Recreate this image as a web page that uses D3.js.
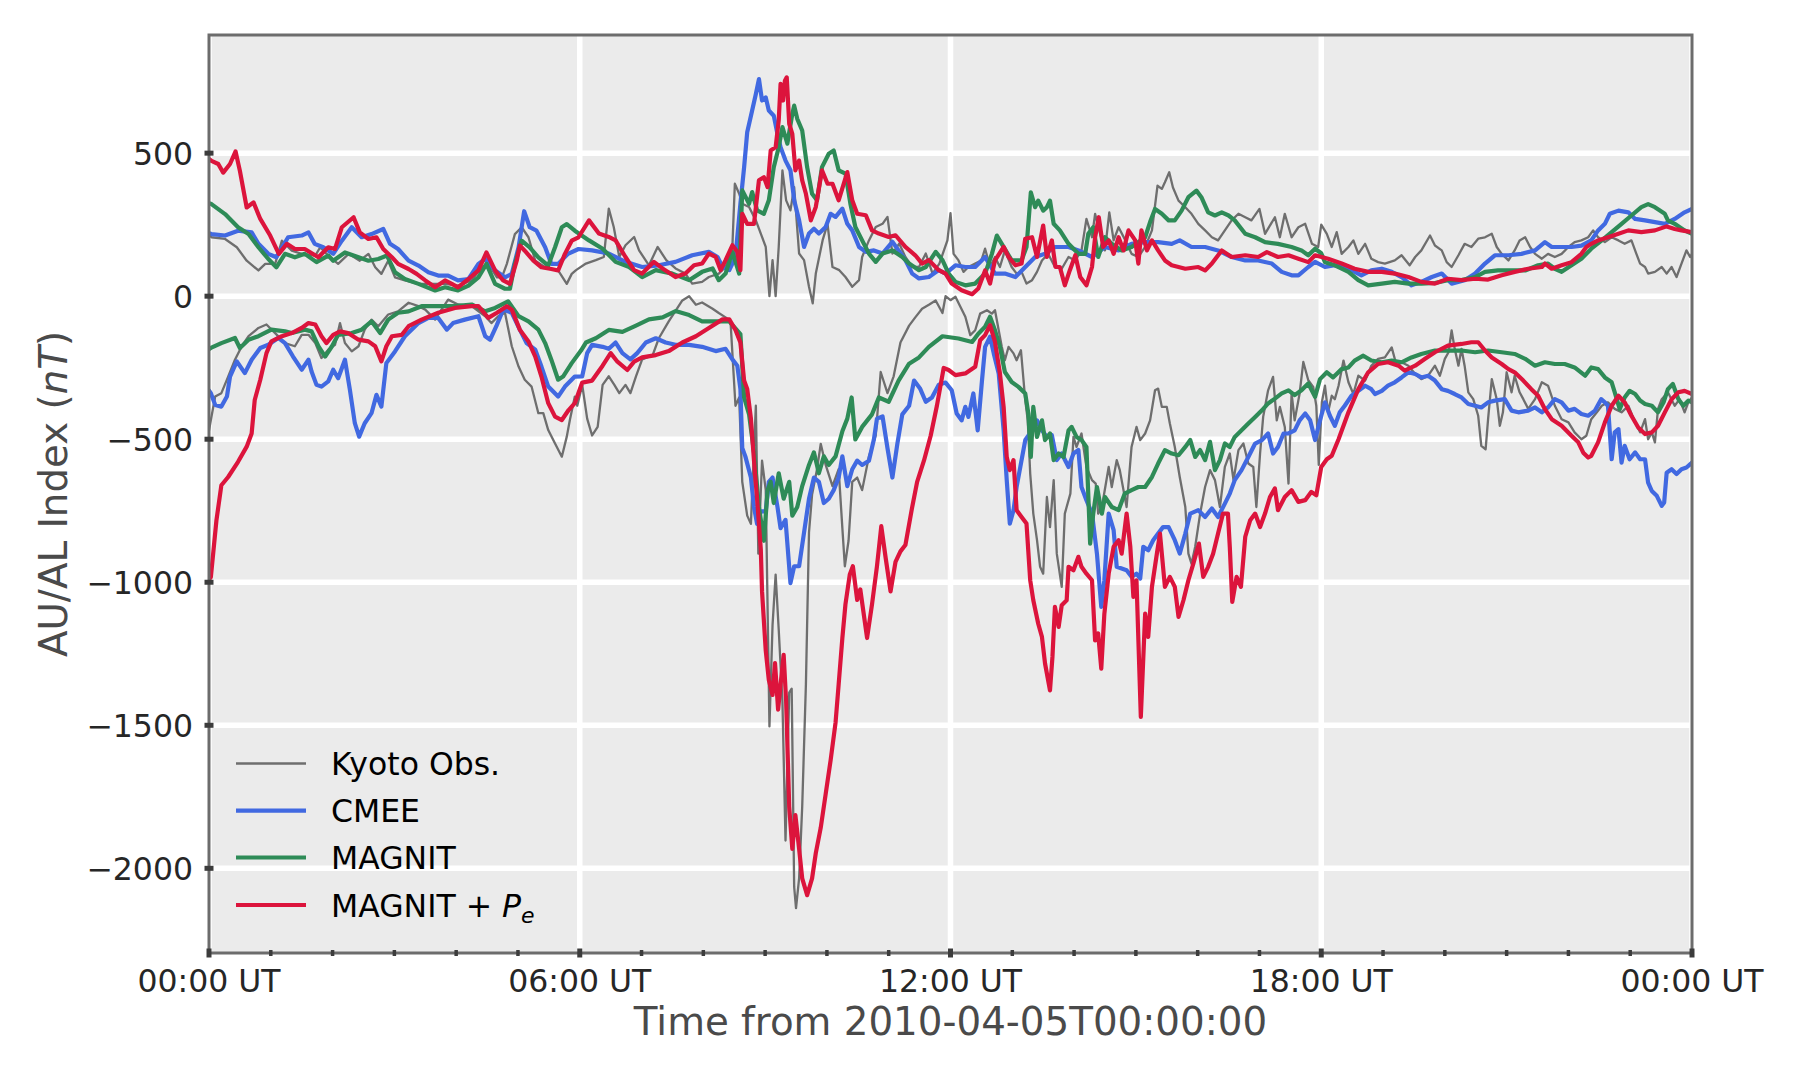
<!DOCTYPE html>
<html><head><meta charset="utf-8">
<script src="https://cdn.jsdelivr.net/npm/d3@7"></script>
<style>body{margin:0;background:#fff}svg{display:block}</style>
</head><body>
<svg id="chart" width="1800" height="1080"></svg>
<script>
// ---------- tick data ----------
const hourTicks = [0, 6, 12, 18, 24];
const hourTickLabels = ["00:00 UT", "06:00 UT", "12:00 UT", "18:00 UT", "00:00 UT"];
const minorHours = d3.range(0, 25, 1);
const valueTicks = [500, 0, -500, -1000, -1500, -2000];
const xTitle = "Time from 2010-04-05T00:00:00";

// ---------- series data: [hour, nT] ----------
const kyotoAU = [[0,215],[0.04,206],[0.26,200],[0.45,171],[0.61,124],[0.8,90],[0.91,113],[1.07,113],[1.18,194],[1.34,159],[1.5,148],[1.72,142],[1.8,171],[1.93,142],[2.09,113],[2.26,148],[2.44,124],[2.58,148],[2.69,101],[2.79,78],[2.9,124],[3.01,66],[3.17,55],[3.39,43],[3.6,43],[3.82,43],[4.03,37],[4.25,55],[4.41,101],[4.52,113],[4.66,66],[4.74,66],[4.82,113],[4.95,217],[5.06,241],[5.17,206],[5.28,124],[5.44,101],[5.65,90],[5.79,43],[5.87,78],[5.94,91],[6.1,114],[6.26,126],[6.39,137],[6.47,306],[6.55,242],[6.64,137],[6.74,178],[6.88,207],[6.96,160],[7.12,108],[7.26,172],[7.4,126],[7.55,97],[7.71,79],[7.82,44],[7.98,50],[8.09,67],[8.25,79],[8.36,102],[8.47,172],[8.51,393],[8.58,358],[8.63,323],[8.74,312],[8.85,265],[8.93,219],[9.01,172],[9.07,0],[9.12,126],[9.17,0],[9.22,172],[9.28,440],[9.34,335],[9.41,300],[9.47,381],[9.55,149],[9.63,126],[9.71,33],[9.77,-25],[9.82,79],[9.93,195],[10.01,253],[10.09,102],[10.2,91],[10.3,67],[10.41,33],[10.52,56],[10.57,137],[10.68,195],[10.79,242],[10.9,253],[10.98,277],[11.06,149],[11.17,184],[11.27,137],[11.38,102],[11.49,102],[11.6,149],[11.71,79],[11.82,114],[11.95,195],[12.0,290],[12.05,148],[12.13,125],[12.21,85],[12.29,102],[12.4,114],[12.5,125],[12.56,166],[12.64,102],[12.72,137],[12.8,102],[12.88,160],[12.99,102],[13.07,79],[13.15,85],[13.23,44],[13.32,56],[13.4,85],[13.48,125],[13.58,148],[13.69,102],[13.8,96],[13.91,137],[14.02,125],[14.12,160],[14.2,270],[14.29,206],[14.34,288],[14.42,218],[14.5,160],[14.57,293],[14.64,195],[14.72,241],[14.83,195],[14.93,148],[15.04,137],[15.15,172],[15.26,230],[15.35,386],[15.42,375],[15.47,398],[15.54,433],[15.6,380],[15.69,334],[15.8,311],[15.9,288],[16.01,253],[16.12,230],[16.23,206],[16.33,195],[16.44,230],[16.55,265],[16.66,288],[16.77,276],[16.87,265],[17.0,305],[17.09,218],[17.25,276],[17.33,206],[17.41,288],[17.52,206],[17.63,241],[17.74,253],[17.85,183],[17.95,172],[18.0,250],[18.09,218],[18.17,172],[18.25,224],[18.33,148],[18.44,172],[18.52,195],[18.6,148],[18.71,183],[18.81,131],[18.92,119],[19.03,114],[19.19,125],[19.3,143],[19.43,108],[19.52,137],[19.62,160],[19.76,212],[19.84,177],[19.95,160],[20.03,119],[20.11,102],[20.22,143],[20.32,183],[20.43,172],[20.54,201],[20.65,206],[20.76,218],[20.84,172],[20.92,148],[21.03,125],[21.13,160],[21.21,195],[21.3,206],[21.38,172],[21.46,148],[21.57,131],[21.67,148],[21.78,137],[21.89,148],[22.0,172],[22.1,189],[22.21,195],[22.32,206],[22.4,230],[22.48,206],[22.59,189],[22.7,206],[22.81,195],[22.91,183],[23.02,195],[23.1,148],[23.16,114],[23.24,102],[23.29,79],[23.4,85],[23.51,102],[23.59,79],[23.67,102],[23.75,67],[23.83,114],[23.91,160],[23.97,137],[24.0,148]];

const kyotoAL = [[0,-470],[0.03,-433],[0.1,-351],[0.2,-339],[0.31,-281],[0.42,-222],[0.53,-175],[0.64,-140],[0.8,-111],[0.93,-99],[1.07,-129],[1.23,-164],[1.39,-175],[1.5,-135],[1.61,-135],[1.72,-164],[1.82,-216],[1.93,-187],[2.04,-170],[2.12,-94],[2.2,-164],[2.31,-193],[2.42,-175],[2.52,-117],[2.63,-82],[2.74,-105],[2.9,-64],[3.06,-53],[3.23,-23],[3.39,-35],[3.5,-47],[3.66,-82],[3.71,-64],[3.87,-12],[4.03,-29],[4.25,-35],[4.47,-70],[4.57,-94],[4.68,-70],[4.79,-58],[4.9,-175],[5.01,-246],[5.11,-292],[5.22,-316],[5.33,-409],[5.41,-409],[5.49,-468],[5.6,-515],[5.71,-561],[5.79,-491],[5.84,-433],[5.92,-351],[5.96,-383],[6.04,-310],[6.12,-428],[6.2,-487],[6.29,-457],[6.37,-310],[6.47,-280],[6.56,-310],[6.64,-339],[6.74,-310],[6.82,-339],[6.91,-280],[7.01,-221],[7.18,-206],[7.28,-147],[7.44,-88],[7.66,-15],[7.77,0],[7.88,-30],[7.98,-22],[8.15,-44],[8.25,-59],[8.36,-74],[8.44,-88],[8.52,-383],[8.58,-354],[8.63,-649],[8.71,-767],[8.77,-796],[8.85,-383],[8.89,-900],[8.95,-575],[9.01,-678],[9.07,-1504],[9.12,-1150],[9.17,-973],[9.22,-1165],[9.28,-1416],[9.33,-1903],[9.39,-1386],[9.43,-1372],[9.47,-2065],[9.5,-2139],[9.55,-2035],[9.6,-1785],[9.66,-1357],[9.71,-826],[9.76,-693],[9.84,-605],[9.9,-516],[9.98,-590],[10.09,-664],[10.19,-605],[10.25,-811],[10.29,-944],[10.35,-855],[10.41,-649],[10.49,-634],[10.57,-678],[10.68,-560],[10.79,-487],[10.87,-265],[10.98,-339],[11.08,-280],[11.19,-162],[11.33,-103],[11.43,-74],[11.54,-44],[11.65,-30],[11.76,-15],[11.87,-59],[11.92,0],[12.0,-14],[12.08,-2],[12.16,-37],[12.24,-72],[12.32,-136],[12.4,-119],[12.48,-61],[12.59,-49],[12.67,-61],[12.72,-49],[12.78,-119],[12.83,-177],[12.88,-224],[12.94,-177],[13.02,-200],[13.07,-224],[13.14,-189],[13.21,-364],[13.25,-434],[13.29,-620],[13.34,-760],[13.4,-853],[13.45,-946],[13.5,-970],[13.56,-702],[13.61,-807],[13.67,-643],[13.72,-900],[13.8,-1016],[13.85,-760],[13.94,-690],[13.99,-492],[14.04,-527],[14.12,-480],[14.2,-597],[14.29,-643],[14.35,-655],[14.39,-760],[14.45,-737],[14.56,-597],[14.61,-667],[14.69,-573],[14.74,-608],[14.85,-737],[14.93,-527],[15.01,-457],[15.07,-503],[15.15,-480],[15.23,-434],[15.31,-329],[15.36,-323],[15.42,-387],[15.5,-387],[15.55,-445],[15.63,-527],[15.71,-632],[15.8,-737],[15.85,-900],[15.9,-935],[15.96,-876],[16.04,-760],[16.12,-667],[16.2,-608],[16.28,-643],[16.36,-737],[16.44,-597],[16.52,-550],[16.58,-643],[16.66,-538],[16.74,-515],[16.82,-585],[16.9,-597],[16.95,-737],[17.01,-550],[17.06,-422],[17.14,-329],[17.22,-282],[17.28,-434],[17.33,-387],[17.41,-457],[17.47,-655],[17.52,-340],[17.57,-434],[17.65,-340],[17.71,-230],[17.79,-294],[17.87,-317],[17.92,-383],[17.96,-590],[18.01,-371],[18.06,-313],[18.11,-406],[18.17,-348],[18.22,-360],[18.28,-313],[18.36,-225],[18.44,-301],[18.52,-342],[18.6,-278],[18.71,-295],[18.81,-243],[18.92,-219],[19.03,-214],[19.14,-179],[19.22,-243],[19.3,-231],[19.41,-243],[19.52,-272],[19.62,-290],[19.73,-278],[19.84,-243],[19.92,-278],[20.0,-219],[20.06,-196],[20.11,-120],[20.16,-184],[20.22,-243],[20.27,-184],[20.32,-243],[20.38,-336],[20.46,-360],[20.54,-418],[20.59,-523],[20.66,-535],[20.7,-430],[20.76,-290],[20.84,-360],[20.89,-453],[20.94,-406],[21.0,-266],[21.08,-336],[21.13,-278],[21.21,-336],[21.27,-360],[21.35,-394],[21.46,-360],[21.57,-301],[21.67,-313],[21.78,-383],[21.89,-430],[22.0,-441],[22.1,-476],[22.21,-500],[22.29,-488],[22.37,-430],[22.46,-406],[22.54,-383],[22.64,-371],[22.75,-394],[22.86,-406],[22.97,-383],[23.08,-441],[23.16,-476],[23.24,-430],[23.29,-500],[23.35,-476],[23.4,-511],[23.45,-394],[23.51,-360],[23.61,-336],[23.72,-383],[23.8,-360],[23.88,-406],[23.94,-371],[24.0,-354]];

const cmeeAU = [[0,220],[0.04,217],[0.26,212],[0.47,229],[0.69,223],[0.8,183],[0.96,148],[1.09,136],[1.28,206],[1.5,212],[1.61,223],[1.71,183],[1.85,171],[2.01,148],[2.15,194],[2.31,241],[2.47,206],[2.63,217],[2.82,235],[2.93,183],[3.06,165],[3.23,124],[3.39,107],[3.55,84],[3.71,72],[3.87,72],[4.03,55],[4.2,60],[4.36,113],[4.47,130],[4.63,90],[4.79,66],[4.9,78],[5.01,171],[5.1,297],[5.19,241],[5.3,229],[5.44,171],[5.54,113],[5.65,113],[5.81,148],[5.98,165],[6.2,160],[6.47,149],[6.74,120],[7.01,102],[7.28,108],[7.55,120],[7.82,143],[8.09,155],[8.23,137],[8.31,102],[8.42,91],[8.52,137],[8.6,323],[8.66,451],[8.71,573],[8.79,649],[8.85,707],[8.9,759],[8.95,684],[9.01,695],[9.06,649],[9.14,631],[9.2,567],[9.25,521],[9.33,474],[9.41,440],[9.47,335],[9.55,265],[9.63,172],[9.71,219],[9.79,236],[9.87,219],[9.98,242],[10.06,288],[10.14,277],[10.25,306],[10.33,253],[10.41,230],[10.52,172],[10.63,155],[10.76,160],[10.9,149],[11.06,190],[11.16,160],[11.27,126],[11.38,79],[11.49,62],[11.65,67],[11.81,91],[11.92,79],[12.08,108],[12.24,102],[12.4,102],[12.56,137],[12.72,79],[12.88,79],[13.05,67],[13.21,102],[13.37,137],[13.53,148],[13.69,172],[13.91,172],[14.07,160],[14.29,137],[14.5,172],[14.72,160],[14.93,183],[15.15,189],[15.36,189],[15.58,183],[15.71,195],[15.9,172],[16.12,172],[16.33,160],[16.55,137],[16.77,125],[16.98,125],[17.2,114],[17.36,85],[17.52,73],[17.63,73],[17.79,102],[17.9,120],[18.06,102],[18.22,108],[18.44,96],[18.65,73],[18.81,90],[18.98,96],[19.14,85],[19.3,67],[19.46,38],[19.62,50],[19.79,67],[19.95,79],[20.11,44],[20.32,56],[20.49,79],[20.65,114],[20.81,143],[21.03,143],[21.24,148],[21.46,160],[21.62,189],[21.73,172],[21.89,172],[22.05,172],[22.21,177],[22.37,195],[22.48,230],[22.59,253],[22.67,288],[22.81,299],[22.97,293],[23.08,270],[23.24,265],[23.4,259],[23.56,253],[23.72,270],[23.88,293],[24.0,305]];

const cmeeAL = [[0,-330],[0.03,-339],[0.1,-380],[0.2,-386],[0.29,-351],[0.34,-281],[0.45,-228],[0.58,-269],[0.69,-222],[0.83,-181],[0.96,-170],[1.12,-146],[1.23,-164],[1.36,-211],[1.5,-257],[1.61,-222],[1.66,-263],[1.74,-310],[1.82,-316],[1.93,-298],[2.01,-257],[2.09,-287],[2.2,-222],[2.28,-327],[2.36,-444],[2.43,-491],[2.52,-444],[2.63,-409],[2.71,-345],[2.79,-386],[2.87,-234],[3.01,-193],[3.17,-140],[3.39,-94],[3.55,-76],[3.71,-76],[3.85,-117],[3.95,-94],[4.14,-82],[4.36,-70],[4.47,-140],[4.55,-152],[4.65,-105],[4.76,-47],[4.9,-58],[5.03,-117],[5.14,-164],[5.28,-187],[5.38,-246],[5.49,-316],[5.65,-351],[5.76,-316],[5.92,-281],[6.04,-280],[6.12,-199],[6.2,-170],[6.37,-177],[6.47,-184],[6.58,-162],[6.69,-199],[6.82,-221],[6.93,-199],[7.07,-162],[7.23,-147],[7.39,-162],[7.55,-170],[7.77,-170],[7.98,-177],[8.2,-192],[8.36,-184],[8.47,-221],[8.55,-243],[8.6,-324],[8.63,-531],[8.68,-560],[8.77,-634],[8.82,-737],[8.87,-796],[8.93,-752],[9.01,-752],[9.06,-649],[9.12,-634],[9.2,-737],[9.25,-811],[9.33,-782],[9.41,-1003],[9.47,-944],[9.55,-944],[9.63,-826],[9.71,-708],[9.79,-634],[9.87,-649],[9.95,-723],[10.03,-708],[10.11,-678],[10.19,-634],[10.25,-560],[10.33,-664],[10.41,-605],[10.49,-575],[10.57,-590],[10.68,-575],[10.76,-501],[10.81,-428],[10.9,-420],[10.98,-531],[11.06,-634],[11.14,-516],[11.22,-413],[11.33,-383],[11.41,-295],[11.51,-324],[11.6,-369],[11.7,-354],[11.81,-310],[11.92,-302],[12.02,-329],[12.1,-410],[12.18,-434],[12.24,-387],[12.29,-422],[12.37,-340],[12.44,-469],[12.51,-294],[12.56,-177],[12.64,-142],[12.7,-200],[12.78,-270],[12.86,-469],[12.91,-643],[12.96,-795],[13.02,-748],[13.07,-667],[13.13,-597],[13.21,-503],[13.32,-469],[13.4,-434],[13.48,-469],[13.56,-492],[13.64,-486],[13.72,-573],[13.8,-550],[13.91,-597],[13.99,-550],[14.07,-538],[14.12,-667],[14.2,-713],[14.29,-760],[14.37,-900],[14.44,-1086],[14.49,-993],[14.56,-760],[14.64,-818],[14.69,-946],[14.77,-952],[14.85,-958],[14.93,-981],[15.01,-970],[15.07,-987],[15.12,-876],[15.2,-888],[15.28,-853],[15.36,-830],[15.44,-807],[15.53,-807],[15.63,-853],[15.71,-900],[15.8,-830],[15.88,-760],[16.01,-748],[16.12,-772],[16.23,-742],[16.33,-772],[16.44,-725],[16.52,-690],[16.6,-643],[16.71,-608],[16.82,-562],[16.93,-515],[17.04,-503],[17.14,-480],[17.22,-550],[17.3,-527],[17.39,-480],[17.47,-480],[17.57,-469],[17.65,-434],[17.74,-410],[17.82,-434],[17.9,-503],[17.98,-434],[18.06,-371],[18.14,-418],[18.22,-453],[18.3,-406],[18.38,-383],[18.49,-348],[18.6,-331],[18.71,-313],[18.81,-325],[18.87,-342],[18.98,-331],[19.08,-313],[19.19,-301],[19.3,-284],[19.41,-266],[19.52,-272],[19.62,-284],[19.73,-278],[19.84,-295],[19.95,-325],[20.05,-331],[20.16,-342],[20.27,-354],[20.38,-377],[20.49,-383],[20.59,-389],[20.7,-371],[20.81,-365],[20.97,-360],[21.08,-400],[21.19,-406],[21.35,-400],[21.46,-389],[21.57,-406],[21.67,-389],[21.78,-360],[21.89,-371],[22.0,-400],[22.1,-394],[22.21,-412],[22.32,-418],[22.43,-400],[22.53,-360],[22.59,-371],[22.64,-383],[22.7,-570],[22.75,-476],[22.81,-465],[22.86,-582],[22.91,-523],[22.99,-570],[23.08,-546],[23.16,-570],[23.24,-570],[23.29,-652],[23.35,-681],[23.43,-698],[23.51,-733],[23.55,-721],[23.59,-617],[23.67,-605],[23.75,-622],[23.83,-605],[23.91,-599],[24.0,-582]];

const magnitAU = [[0,325],[0.04,322],[0.26,287],[0.47,241],[0.64,217],[0.8,171],[0.96,130],[1.09,101],[1.23,148],[1.39,136],[1.55,148],[1.74,119],[1.93,142],[2.01,124],[2.2,153],[2.42,136],[2.58,124],[2.74,130],[2.88,142],[3.01,84],[3.17,60],[3.39,43],[3.66,20],[3.82,31],[4.03,20],[4.2,37],[4.36,66],[4.49,113],[4.63,43],[4.79,26],[4.87,26],[4.95,113],[5.06,194],[5.19,171],[5.33,136],[5.49,107],[5.6,171],[5.71,241],[5.79,252],[5.92,229],[6.15,195],[6.37,166],[6.58,120],[6.8,102],[7.01,67],[7.23,91],[7.5,79],[7.77,56],[7.98,85],[8.15,97],[8.25,56],[8.36,79],[8.47,155],[8.58,79],[8.63,370],[8.74,323],[8.79,364],[8.87,300],[8.98,288],[9.06,335],[9.14,451],[9.22,521],[9.28,591],[9.36,533],[9.44,637],[9.47,666],[9.52,620],[9.6,579],[9.68,451],[9.76,358],[9.84,335],[9.92,451],[10.03,498],[10.11,509],[10.19,440],[10.3,428],[10.38,323],[10.46,242],[10.57,195],[10.68,149],[10.79,120],[10.9,149],[11.06,160],[11.22,137],[11.33,114],[11.49,91],[11.6,102],[11.76,155],[11.87,126],[11.97,79],[12.08,50],[12.24,38],[12.4,44],[12.56,79],[12.67,148],[12.75,212],[12.83,183],[12.99,125],[13.15,125],[13.23,172],[13.3,363],[13.37,311],[13.42,334],[13.5,299],[13.56,311],[13.61,334],[13.67,253],[13.77,230],[13.91,183],[14.07,148],[14.18,148],[14.23,218],[14.31,241],[14.39,137],[14.5,206],[14.61,183],[14.77,160],[14.93,172],[15.15,206],[15.23,259],[15.31,305],[15.42,288],[15.53,265],[15.63,265],[15.74,299],[15.85,346],[15.98,369],[16.06,346],[16.17,293],[16.28,282],[16.39,293],[16.5,282],[16.6,265],[16.77,218],[16.93,206],[17.09,189],[17.3,183],[17.52,172],[17.68,160],[17.79,143],[17.9,166],[18.0,150],[18.06,119],[18.22,108],[18.44,85],[18.6,56],[18.76,38],[18.98,44],[19.19,50],[19.41,44],[19.62,44],[19.84,46],[20.05,56],[20.27,56],[20.49,67],[20.65,85],[20.86,90],[21.08,90],[21.3,90],[21.51,108],[21.67,114],[21.78,96],[21.89,85],[22.05,108],[22.21,131],[22.37,166],[22.54,195],[22.7,224],[22.86,253],[23.02,282],[23.18,311],[23.29,322],[23.4,311],[23.56,288],[23.61,265],[23.72,253],[23.88,230],[24.0,218]];

const magnitAL = [[0,-185],[0.03,-181],[0.2,-164],[0.42,-146],[0.5,-181],[0.64,-152],[0.8,-140],[1.01,-117],[1.23,-123],[1.34,-129],[1.55,-117],[1.66,-123],[1.77,-175],[1.88,-211],[1.99,-175],[2.09,-135],[2.31,-129],[2.47,-117],[2.63,-88],[2.77,-129],[2.9,-82],[3.06,-58],[3.23,-53],[3.44,-35],[3.71,-35],[3.98,-35],[4.25,-29],[4.47,-53],[4.63,-41],[4.84,-18],[5.01,-70],[5.17,-88],[5.33,-117],[5.44,-164],[5.54,-222],[5.65,-292],[5.73,-281],[5.87,-234],[6.02,-190],[6.1,-162],[6.26,-147],[6.47,-118],[6.69,-125],[6.91,-103],[7.12,-81],[7.34,-74],[7.55,-52],[7.77,-66],[7.98,-88],[8.2,-88],[8.42,-88],[8.6,-133],[8.66,-354],[8.74,-413],[8.82,-546],[8.9,-737],[8.98,-855],[9.04,-678],[9.09,-649],[9.14,-723],[9.22,-619],[9.3,-708],[9.39,-649],[9.44,-767],[9.52,-737],[9.6,-664],[9.71,-590],[9.79,-546],[9.87,-619],[9.95,-560],[10.03,-590],[10.14,-560],[10.25,-472],[10.33,-428],[10.4,-354],[10.46,-501],[10.57,-457],[10.73,-413],[10.84,-354],[11.0,-369],[11.16,-295],[11.33,-236],[11.49,-214],[11.65,-177],[11.87,-140],[12.13,-148],[12.35,-160],[12.45,-131],[12.56,-107],[12.64,-72],[12.72,-119],[12.8,-177],[12.88,-265],[12.99,-300],[13.1,-317],[13.21,-340],[13.26,-410],[13.3,-562],[13.34,-387],[13.4,-492],[13.48,-434],[13.53,-503],[13.61,-480],[13.67,-573],[13.75,-550],[13.83,-562],[13.91,-469],[13.96,-457],[14.04,-492],[14.12,-503],[14.2,-527],[14.26,-865],[14.31,-760],[14.37,-667],[14.45,-760],[14.5,-702],[14.61,-737],[14.72,-748],[14.82,-690],[14.93,-678],[15.04,-667],[15.15,-667],[15.26,-632],[15.36,-585],[15.47,-538],[15.58,-550],[15.69,-556],[15.8,-527],[15.88,-503],[15.96,-562],[16.04,-538],[16.12,-573],[16.2,-509],[16.28,-608],[16.36,-573],[16.44,-515],[16.52,-527],[16.6,-492],[16.71,-469],[16.82,-445],[16.93,-422],[17.04,-399],[17.14,-375],[17.25,-358],[17.36,-340],[17.47,-329],[17.57,-346],[17.68,-329],[17.79,-305],[17.9,-352],[17.98,-290],[18.09,-266],[18.19,-284],[18.33,-255],[18.44,-249],[18.54,-225],[18.68,-208],[18.81,-225],[18.98,-231],[19.14,-225],[19.3,-231],[19.46,-214],[19.62,-202],[19.84,-190],[20.05,-190],[20.27,-190],[20.49,-196],[20.7,-190],[20.92,-196],[21.13,-202],[21.3,-219],[21.46,-243],[21.62,-231],[21.78,-237],[21.94,-237],[22.1,-249],[22.27,-278],[22.37,-249],[22.48,-255],[22.59,-284],[22.7,-301],[22.75,-336],[22.83,-395],[22.91,-354],[22.99,-331],[23.08,-342],[23.16,-365],[23.24,-377],[23.35,-383],[23.45,-406],[23.54,-371],[23.61,-325],[23.69,-307],[23.78,-360],[23.86,-383],[23.94,-365],[24.0,-371]];

const magnitPeAU = [[0,480],[0.04,473],[0.15,462],[0.23,432],[0.34,462],[0.43,506],[0.5,438],[0.61,310],[0.72,328],[0.83,270],[0.99,212],[1.13,148],[1.26,183],[1.39,165],[1.55,165],[1.77,136],[1.93,171],[2.04,165],[2.15,241],[2.34,276],[2.44,223],[2.58,200],[2.71,206],[2.82,165],[2.96,136],[3.06,113],[3.23,95],[3.36,78],[3.5,55],[3.66,31],[3.82,55],[3.93,43],[4.03,31],[4.2,60],[4.36,90],[4.49,153],[4.63,90],[4.76,55],[4.87,43],[4.98,124],[5.03,177],[5.11,159],[5.25,124],[5.38,101],[5.54,95],[5.65,90],[5.76,148],[5.87,194],[5.98,206],[6.15,265],[6.31,219],[6.47,207],[6.58,195],[6.74,137],[6.88,91],[7.01,79],[7.2,120],[7.34,97],[7.55,67],[7.71,79],[7.85,108],[7.98,114],[8.09,149],[8.2,137],[8.28,91],[8.36,126],[8.47,178],[8.55,155],[8.6,91],[8.63,288],[8.71,253],[8.82,253],[8.9,405],[8.98,416],[9.04,381],[9.09,509],[9.17,521],[9.22,614],[9.25,742],[9.29,684],[9.32,753],[9.35,765],[9.39,602],[9.44,567],[9.49,440],[9.55,474],[9.6,405],[9.66,358],[9.74,265],[9.82,312],[9.92,440],[10.01,393],[10.09,393],[10.19,335],[10.33,434],[10.41,335],[10.49,288],[10.63,283],[10.73,230],[10.84,219],[11.0,207],[11.11,213],[11.27,172],[11.43,143],[11.54,114],[11.65,126],[11.81,91],[11.92,79],[12.02,44],[12.18,21],[12.35,7],[12.45,27],[12.56,90],[12.64,44],[12.72,125],[12.86,172],[12.94,137],[13.05,108],[13.15,114],[13.21,201],[13.32,206],[13.4,137],[13.5,247],[13.56,137],[13.64,195],[13.7,102],[13.77,102],[13.85,38],[13.93,90],[14.02,143],[14.1,67],[14.2,38],[14.29,102],[14.34,206],[14.4,276],[14.47,172],[14.56,195],[14.64,148],[14.72,206],[14.8,160],[14.88,230],[14.99,195],[15.04,114],[15.09,230],[15.18,160],[15.26,195],[15.36,160],[15.47,125],[15.58,108],[15.8,96],[16.01,102],[16.12,90],[16.23,114],[16.39,160],[16.55,137],[16.77,143],[16.98,137],[17.12,154],[17.3,137],[17.47,143],[17.63,131],[17.79,119],[17.9,143],[18.11,131],[18.33,114],[18.54,96],[18.76,85],[18.98,85],[19.19,79],[19.41,67],[19.62,50],[19.84,44],[20.05,61],[20.27,56],[20.49,61],[20.7,58],[20.92,73],[21.13,85],[21.35,96],[21.57,102],[21.62,114],[21.73,96],[21.89,108],[22.05,119],[22.21,148],[22.29,172],[22.37,183],[22.48,195],[22.64,206],[22.81,218],[22.97,230],[23.18,224],[23.4,230],[23.59,244],[23.72,235],[23.83,230],[24.0,224]];

const magnitPeAL = [[0,-990],[0.03,-982],[0.12,-784],[0.2,-661],[0.31,-632],[0.47,-579],[0.61,-526],[0.69,-480],[0.74,-363],[0.83,-292],[0.93,-199],[1.01,-158],[1.18,-140],[1.34,-129],[1.5,-111],[1.61,-94],[1.72,-99],[1.82,-140],[1.9,-164],[2.01,-135],[2.12,-123],[2.25,-129],[2.42,-152],[2.58,-158],[2.69,-175],[2.79,-228],[2.87,-175],[2.96,-140],[3.12,-135],[3.23,-105],[3.44,-82],[3.71,-58],[3.98,-41],[4.25,-35],[4.36,-35],[4.52,-76],[4.66,-58],[4.82,-35],[4.9,-47],[5.03,-117],[5.17,-158],[5.28,-211],[5.38,-281],[5.49,-374],[5.6,-421],[5.71,-433],[5.82,-398],[5.92,-374],[6.04,-302],[6.2,-295],[6.37,-243],[6.5,-199],[6.61,-229],[6.77,-258],[6.88,-229],[7.01,-214],[7.23,-206],[7.44,-192],[7.66,-162],[7.88,-140],[8.09,-111],[8.31,-81],[8.42,-81],[8.52,-118],[8.6,-162],[8.66,-295],[8.71,-324],[8.77,-428],[8.82,-575],[8.87,-708],[8.93,-885],[8.95,-1032],[9.01,-1239],[9.06,-1342],[9.12,-1394],[9.16,-1283],[9.21,-1445],[9.25,-1357],[9.3,-1254],[9.34,-1416],[9.39,-1785],[9.44,-1932],[9.49,-1814],[9.55,-1932],[9.6,-2035],[9.68,-2094],[9.76,-2035],[9.82,-1947],[9.9,-1858],[9.98,-1740],[10.06,-1622],[10.14,-1490],[10.19,-1357],[10.25,-1195],[10.3,-1077],[10.37,-973],[10.42,-944],[10.49,-1062],[10.54,-1025],[10.65,-1195],[10.73,-1077],[10.81,-944],[10.88,-804],[10.95,-914],[11.03,-1032],[11.11,-929],[11.19,-892],[11.27,-870],[11.38,-737],[11.46,-649],[11.57,-575],[11.68,-487],[11.78,-383],[11.89,-251],[11.97,-258],[12.08,-276],[12.24,-270],[12.4,-247],[12.48,-154],[12.56,-136],[12.64,-101],[12.72,-160],[12.8,-270],[12.86,-387],[12.91,-562],[12.96,-608],[13.02,-573],[13.07,-748],[13.15,-772],[13.23,-795],[13.29,-993],[13.34,-1063],[13.42,-1145],[13.48,-1191],[13.53,-1284],[13.61,-1378],[13.65,-1261],[13.69,-1086],[13.75,-1156],[13.8,-1080],[13.88,-1063],[13.91,-946],[13.99,-958],[14.07,-911],[14.12,-946],[14.2,-970],[14.29,-993],[14.34,-1203],[14.39,-1179],[14.44,-1302],[14.49,-1110],[14.56,-970],[14.64,-876],[14.72,-853],[14.77,-900],[14.85,-760],[14.91,-876],[14.96,-1051],[15.01,-993],[15.08,-1471],[15.15,-1110],[15.2,-1191],[15.26,-1016],[15.34,-900],[15.39,-830],[15.47,-1016],[15.55,-981],[15.63,-1016],[15.69,-1121],[15.77,-1063],[15.85,-993],[15.93,-935],[16.02,-865],[16.09,-981],[16.17,-946],[16.25,-900],[16.33,-830],[16.41,-760],[16.49,-760],[16.52,-876],[16.56,-1069],[16.63,-981],[16.7,-1016],[16.77,-841],[16.85,-783],[16.93,-760],[17.01,-807],[17.09,-760],[17.17,-702],[17.25,-672],[17.3,-748],[17.41,-702],[17.52,-678],[17.63,-719],[17.74,-713],[17.84,-684],[17.92,-696],[18.0,-597],[18.09,-570],[18.17,-558],[18.28,-500],[18.44,-406],[18.6,-325],[18.76,-266],[18.92,-237],[19.08,-231],[19.25,-243],[19.35,-260],[19.52,-243],[19.68,-219],[19.84,-196],[20.05,-173],[20.27,-167],[20.43,-161],[20.54,-161],[20.65,-190],[20.76,-214],[20.92,-237],[21.03,-255],[21.13,-266],[21.27,-295],[21.4,-325],[21.51,-348],[21.62,-395],[21.73,-430],[21.89,-453],[22.05,-488],[22.16,-511],[22.24,-547],[22.32,-564],[22.37,-558],[22.48,-511],[22.59,-441],[22.7,-383],[22.81,-348],[22.91,-371],[23.02,-418],[23.13,-459],[23.24,-482],[23.35,-476],[23.45,-453],[23.56,-406],[23.67,-360],[23.78,-336],[23.88,-331],[24.0,-342]];

// ---------- layout & style ----------
const W = 1800, H = 1080;
const plot = {left: 209, right: 1692, top: 35, bottom: 953};
const FONT = "'DejaVu Sans', sans-serif";

const series = [
  {name: "Kyoto Obs.", au: kyotoAU, al: kyotoAL, color: "#6e6e6e", width: 2.3},
  {name: "CMEE", au: cmeeAU, al: cmeeAL, color: "#4169e1", width: 4.2},
  {name: "MAGNIT", au: magnitAU, al: magnitAL, color: "#2e8b57", width: 4.2},
  {name: "MAGNIT + Pe", au: magnitPeAU, al: magnitPeAL, color: "#dc143c", width: 4.2}
];

const svg = d3.select("#chart");
const x = d3.scaleLinear().domain([0, 24]).range([plot.left, plot.right]);
const y = d3.scaleLinear().domain([-2296, 913]).range([plot.bottom, plot.top]);

svg.append("rect").attr("width", W).attr("height", H).attr("fill", "#ffffff");
svg.append("rect").attr("x", plot.left).attr("y", plot.top)
  .attr("width", plot.right - plot.left).attr("height", plot.bottom - plot.top)
  .attr("fill", "#ebebeb");

// grid
const grid = svg.append("g").attr("stroke", "#ffffff").attr("stroke-width", 5.5);
grid.selectAll("line.h").data(valueTicks).join("line")
  .attr("x1", plot.left).attr("x2", plot.right)
  .attr("y1", d => y(d)).attr("y2", d => y(d));
grid.selectAll("line.v").data(hourTicks).join("line")
  .attr("y1", plot.top).attr("y2", plot.bottom)
  .attr("x1", d => x(d)).attr("x2", d => x(d));

// clip
svg.append("clipPath").attr("id", "clip").append("rect")
  .attr("x", plot.left).attr("y", plot.top)
  .attr("width", plot.right - plot.left).attr("height", plot.bottom - plot.top);

const line = d3.line().x(d => x(d[0])).y(d => y(d[1]));
const lines = svg.append("g").attr("clip-path", "url(#clip)");
series.forEach(s => {
  [s.au, s.al].forEach(arr => {
    lines.append("path").attr("d", line(arr))
      .attr("fill", "none").attr("stroke", s.color)
      .attr("stroke-width", s.width)
      .attr("stroke-linejoin", "round").attr("stroke-linecap", "round");
  });
});

// spines
svg.append("rect").attr("x", plot.left).attr("y", plot.top)
  .attr("width", plot.right - plot.left).attr("height", plot.bottom - plot.top)
  .attr("fill", "none").attr("stroke", "#6c6c6c").attr("stroke-width", 3);

// ticks (inout)
const tk = svg.append("g").attr("stroke", "#3c3c3c");
tk.selectAll("line.minor").data(minorHours.filter(h => !hourTicks.includes(h))).join("line")
  .attr("x1", d => x(d)).attr("x2", d => x(d))
  .attr("y1", plot.bottom - 3).attr("y2", plot.bottom + 3).attr("stroke-width", 3.5);
tk.selectAll("line.majx").data(hourTicks).join("line")
  .attr("x1", d => x(d)).attr("x2", d => x(d))
  .attr("y1", plot.bottom - 4.5).attr("y2", plot.bottom + 4.5).attr("stroke-width", 5);
tk.selectAll("line.majy").data(valueTicks).join("line")
  .attr("x1", plot.left - 4.5).attr("x2", plot.left + 4.5)
  .attr("y1", d => y(d)).attr("y2", d => y(d)).attr("stroke-width", 5);

// tick labels
const fmt = d3.format("d");
svg.append("g").selectAll("text").data(valueTicks).join("text")
  .attr("x", 193).attr("y", d => y(d) + 11.5)
  .attr("text-anchor", "end").attr("font-family", FONT).attr("font-size", 31.5)
  .attr("fill", "#262626").text(d => fmt(d));
svg.append("g").selectAll("text").data(hourTicks).join("text")
  .attr("x", d => x(d)).attr("y", 992)
  .attr("text-anchor", "middle").attr("font-family", FONT).attr("font-size", 31.5)
  .attr("fill", "#262626").text((d, i) => hourTickLabels[i]);

// axis titles
svg.append("text").attr("x", (plot.left + plot.right) / 2).attr("y", 1035)
  .attr("text-anchor", "middle").attr("font-family", FONT).attr("font-size", 38.8)
  .attr("fill", "#4a4a4a").text(xTitle);
const yt = svg.append("text").attr("transform", `translate(67,${(plot.top + plot.bottom) / 2}) rotate(-90)`)
  .attr("text-anchor", "middle").attr("font-family", FONT).attr("font-size", 38.8)
  .attr("fill", "#4a4a4a");
yt.append("tspan").text("AU/AL Index (");
yt.append("tspan").attr("font-style", "italic").text("nT");
yt.append("tspan").text(")");

// legend
const legY = [763.5, 810.7, 857.5, 905];
const leg = svg.append("g");
series.forEach((s, i) => {
  leg.append("line").attr("x1", 236).attr("x2", 306)
    .attr("y1", legY[i]).attr("y2", legY[i])
    .attr("stroke", s.color).attr("stroke-width", s.width);
  const t = leg.append("text").attr("x", 331).attr("y", legY[i] + 11.6)
    .attr("font-family", FONT).attr("font-size", 31.5).attr("fill", "#000");
  if (i === 3) {
    t.append("tspan").text("MAGNIT + ");
    t.append("tspan").attr("font-style", "italic").text("P");
    t.append("tspan").attr("font-style", "italic").attr("font-size", 22).attr("dy", 6).text("e");
  } else {
    t.text(s.name);
  }
});
</script>
</body></html>
